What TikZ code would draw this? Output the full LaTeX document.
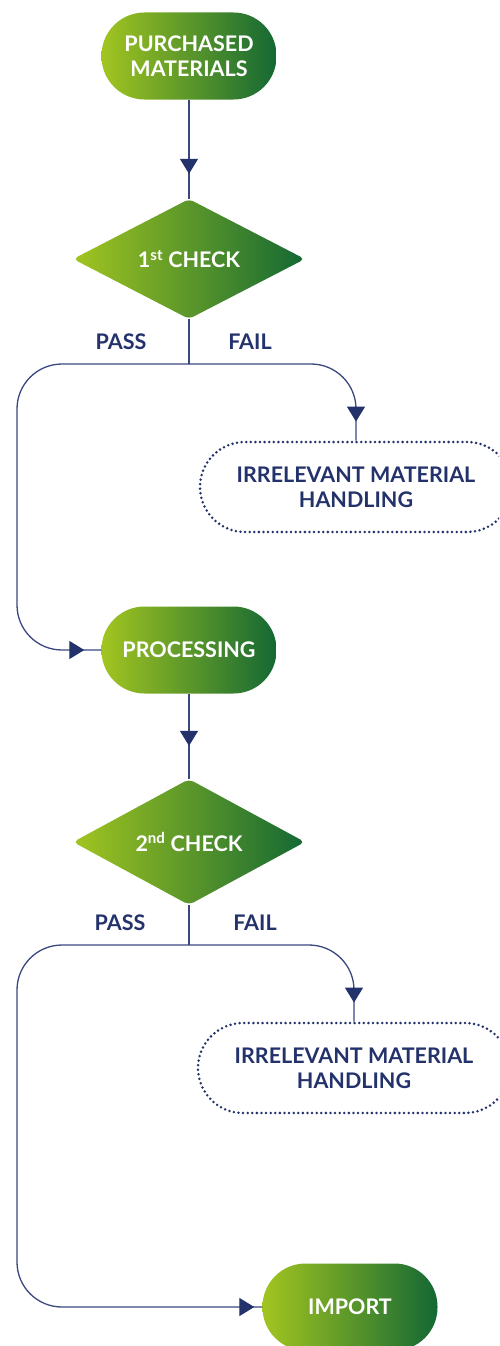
\documentclass[tikz,border=0pt]{standalone}
\usepackage{fontspec}
\setmainfont{Lato}[BoldFont={Lato Bold}]
\usepackage{tikz}
\usetikzlibrary{shapes.geometric,arrows.meta,decorations.markings}
\definecolor{lgreen}{RGB}{162,197,32}
\definecolor{dgreen}{RGB}{20,104,52}
\definecolor{navy}{RGB}{36,50,108}
\definecolor{wire}{RGB}{58,72,128}
\newcommand{\bigtext}{\bfseries\fontsize{21.5}{25}\selectfont}
\tikzstyle{pill}=[rectangle,rounded corners=43pt,minimum width=175pt,minimum height=87pt,inner sep=0pt,left color=lgreen,right color=dgreen,text=white,font=\bigtext,align=center]
\tikzstyle{check}=[diamond,rounded corners=5pt,minimum width=232pt,minimum height=118pt,inner sep=0pt,left color=lgreen,right color=dgreen,text=white,font=\bigtext]
\tikzstyle{waste}=[rectangle,rounded corners=45pt,minimum width=312pt,minimum height=90pt,draw=navy,line width=2.8pt,dash pattern=on 0pt off 4.6pt,line cap=round,text=navy,font=\bigtext,align=center]
\tikzstyle{lbl}=[text=navy,font=\bigtext]
\tikzstyle{flow}=[draw=wire,line width=1.3pt]
\tikzset{headat/.style={postaction={decorate},decoration={markings,mark=at position -#1 with {\arrow[navy]{Triangle[width=18pt,length=15pt]}}}}}

\begin{document}
\begin{tikzpicture}[x=1pt,y=-1pt]
\useasboundingbox (0,0) rectangle (499,1346);
\clip (0,0) rectangle (499,1346);
\node[pill] (pm) at (189,56) {PURCHASED\\MATERIALS};
\node[check] (chk1) at (189,259) {1\textsuperscript{st} CHECK};
\node[lbl] (pass1) at (121,342) {PASS};
\node[lbl] (fail1) at (250,342) {FAIL};
\coordinate (split1) at (189,364);
\coordinate (left1) at (17,364);
\node[waste] (irr1) at (356,487) {IRRELEVANT MATERIAL\\HANDLING};
\node[pill] (proc) at (189,650) {PROCESSING};
\node[check] (chk2) at (189,842) {2\textsuperscript{nd} CHECK};
\node[lbl] (pass2) at (120,923) {PASS};
\node[lbl] (fail2) at (255,923) {FAIL};
\coordinate (split2) at (189,945);
\coordinate (left2) at (17,945);
\node[waste] (irr2) at (354,1068) {IRRELEVANT MATERIAL\\HANDLING};
\node[pill] (imp) at (350,1307) {IMPORT};
% connectors
\draw[flow,headat=25pt] (pm) -- (chk1);
\draw[flow] (chk1.south) -- (split1);
\draw[flow,rounded corners=45pt,headat=17pt] (split1) -- (left1) |- (proc.west);
\draw[flow,rounded corners=45pt,headat=19pt] (split1) -| (irr1.north);
\draw[flow,headat=33pt] (proc) -- (chk2);
\draw[flow] (chk2.south) -- (split2);
\draw[flow,rounded corners=45pt,headat=8pt] (split2) -- (left2) |- (imp.west);
\draw[flow,rounded corners=45pt,headat=19pt] (split2) -| (irr2.north);
\end{tikzpicture}
\end{document}
